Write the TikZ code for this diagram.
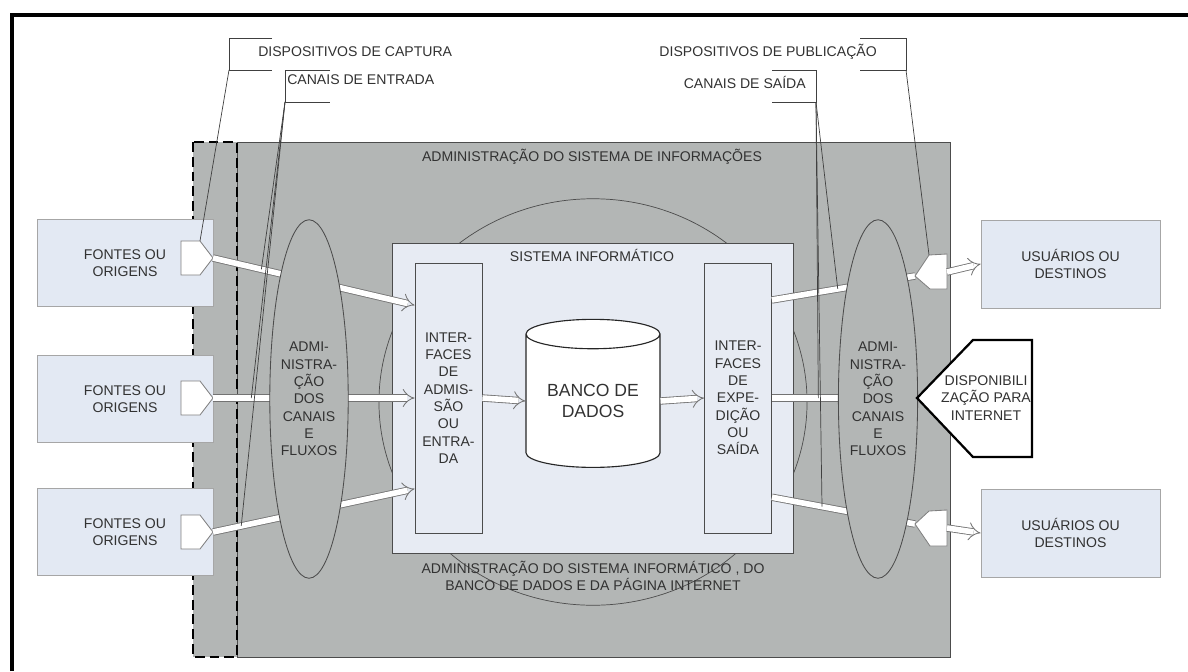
\documentclass[tikz,border=0pt]{standalone}
\usepackage{fontspec}
\setmainfont{Liberation Sans}
\usetikzlibrary{arrows.meta,shapes.geometric}
\definecolor{bggrey}{RGB}{179,182,181}
\definecolor{boxblue}{RGB}{227,233,243}
\definecolor{sysblue}{RGB}{231,235,243}
\definecolor{inkgrey}{RGB}{50,50,50}
\begin{document}
\begin{tikzpicture}[x=0.025cm,y=-0.025cm,
		every node/.style={font=\fontsize{10}{12.3}\selectfont, text=inkgrey, align=center, inner sep=0pt},
		srcbox/.style={draw=black!35, fill=boxblue, line width=.6pt, minimum width=4.4cm, minimum height=2.18cm},
		ifbox/.style={draw=black!70, fill=sysblue, line width=.6pt, minimum width=1.675cm, minimum height=6.75cm},
		plug/.style={draw=black!50, fill=white, line width=.6pt},
		flow/.style={draw=black!55, line width=.6pt, double=white, double distance=4pt, -{Implies}},
		bar/.style={draw=black!55, line width=.6pt, double=white, double distance=4pt},
		lead/.style={draw=black!75, line width=.5pt},
		chan/.style={draw=black!70, fill=bggrey, line width=.6pt}]
		\useasboundingbox (0,0) rectangle (1188,671);
		\draw [line width=2.8pt] (12,671) -- (12,15) -- (1188,15);
		
		\filldraw [fill=bggrey, draw=black!70, line width=.6pt] (237,142) rectangle (950,657);
		\filldraw [fill=bggrey, draw=black, line width=1.8pt, dash pattern=on 7pt off 3.5pt] (193,142) rectangle (237,657);
		\node (admsi) at (592,157) {ADMINISTRAÇÃO DO SISTEMA DE INFORMAÇÕES};
		\draw [black!70, line width=.5pt] (593,402) ellipse [x radius=5.35cm, y radius=5.08cm];
		
		\node [draw=black!70, fill=sysblue, line width=.6pt, minimum width=10.025cm, minimum height=7.75cm] (sys) at (592.5,398) {};
		\node (systit) at (592,255) {SISTEMA INFORMÁTICO};
		\node [ifbox] (inL) at (448.5,398) {INTER-\\FACES\\DE\\ADMIS-\\SÃO\\OU\\ENTRA-\\DA};
		\node [ifbox] (inR) at (738,398) {INTER-\\FACES\\DE\\EXPE-\\DIÇÃO\\OU\\SAÍDA};
		\node [cylinder, shape border rotate=90, aspect=.32, draw=black!85, fill=white, line width=.8pt, minimum width=3.35cm, minimum height=3.7cm, font=\fontsize{12.5}{14.7}\selectfont] (db) at (593,401) {BANCO DE\\DADOS};
		\node (admsys) at (593,576) {ADMINISTRAÇÃO DO SISTEMA INFORMÁTICO , DO\\BANCO DE DADOS E DA PÁGINA INTERNET};
		
		\foreach \n/\y/\t in {1/263/258, 2/399/398, 3/532/532} {
			\node [srcbox] (src\n) at (125,\y) {FONTES OU\\ORIGENS};
			\draw [plug] (181,\t-17) -- (200,\t-17) coordinate (pin\n) -- (213,\t) coordinate (tip\n) -- (200,\t+17) -- (181,\t+17) -- cycle;
		}
		
		\draw [flow] (tip1) -- coordinate [pos=.24] (ch1) ([yshift=2.32cm]inL.west);
		\draw [flow] (tip2) -- coordinate [pos=.19] (ch2) (inL.west);
		\draw [flow] (tip3) -- coordinate [pos=.14] (ch3) ([yshift=-2.27cm]inL.west);
		\draw [flow] (inL.east) -- (db.west);
		\draw [flow] (db.east) -- (inR.west);
		
		\coordinate (out1) at (915,276);
		\coordinate (out2) at (915,524);
		\coordinate (webtip) at (917,398);
		\draw [bar] ([yshift=2.45cm]inR.east) -- coordinate [pos=.46] (sa1) (out1);
		\draw [bar] (inR.east) -- coordinate [pos=.32] (sa2) (webtip);
		\draw [bar] ([yshift=-2.48cm]inR.east) -- coordinate [pos=.35] (sa3) (out2);
		
		\coordinate (cL) at (309,399);
		\coordinate (cR) at (878,399);
		\draw [chan] (cL) ellipse [x radius=.98cm, y radius=4.48cm];
		\draw [chan] (cR) ellipse [x radius=.99cm, y radius=4.48cm];
		\node (admL) at (cL) {ADMI-\\NISTRA-\\ÇÃO\\DOS\\CANAIS\\E\\FLUXOS};
		\node (admR) at (cR) {ADMI-\\NISTRA-\\ÇÃO\\DOS\\CANAIS\\E\\FLUXOS};
		
		\draw [plug] (out1) -- (929,255) coordinate (pout1) -- (947,254) -- (947,272) coordinate (plug1) -- (947,289) -- (930,289) -- cycle;
		\draw [plug] (out2) -- (929,511) -- (947,510) -- (947,528) coordinate (plug2) -- (947,546) -- (930,546) -- cycle;
		\node [srcbox, minimum width=4.475cm, minimum height=2.2cm] (usr1) at (1070.5,264) {USUÁRIOS OU\\DESTINOS};
		\node [srcbox, minimum width=4.475cm, minimum height=2.2cm] (usr2) at (1070.5,533) {USUÁRIOS OU\\DESTINOS};
		\draw [flow] (plug1) -- (usr1.west);
		\draw [flow] (plug2) -- (usr2.west);
		
		\draw [fill=white, line width=1.6pt] (webtip) -- (973,340) -- (1032,340) -- (1032,457) -- (973,457) -- cycle;
		\node (web) at (986,398) {DISPONIBILI\\ZAÇÃO PARA\\INTERNET};
		
		\node [anchor=west] (capt) at (258,52) {DISPOSITIVOS DE CAPTURA};
		\draw [lead] (272,38) -- (229,38) -- (229,70) coordinate (captb) -- (272,70);
		\draw [lead] (captb) -- (pin1);
		\node [anchor=west] (ent) at (287,80) {CANAIS DE ENTRADA};
		\draw [lead] (330,70) -- (285,70) -- (285,102) coordinate (entb) -- (330,102);
		\draw [lead] (entb) -- (ch1);
		\draw [lead] (entb) -- (ch2);
		\draw [lead] (entb) -- (ch3);
		
		\node [anchor=east] (pub) at (877,52) {DISPOSITIVOS DE PUBLICAÇÃO};
		\draw [lead] (860,38) -- (906,38) -- (906,70) coordinate (pubb) -- (860,70);
		\draw [lead] (pubb) -- (pout1);
		\node [anchor=east] (sai) at (806,82) {CANAIS DE SAÍDA};
		\draw [lead] (772,70) -- (816,70) -- (816,102) coordinate (saib) -- (772,102);
		\draw [lead] (saib) -- (sa1);
		\draw [lead] (saib) -- (sa2);
		\draw [lead] (saib) -- (sa3);
		\end{tikzpicture}
\end{document}
